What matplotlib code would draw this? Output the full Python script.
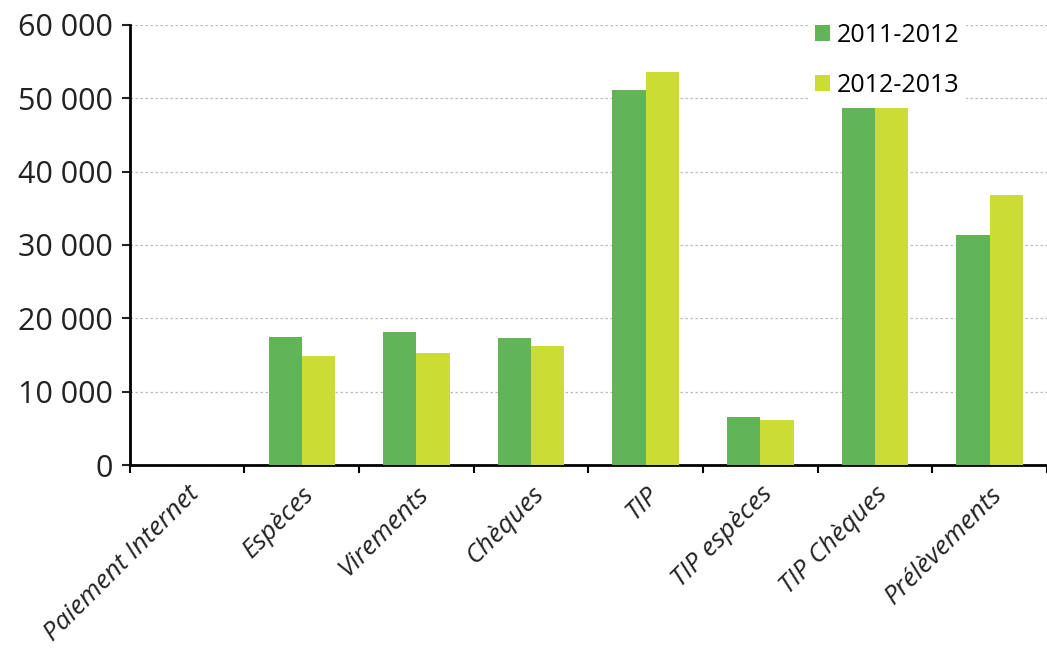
import matplotlib.pyplot as plt
import numpy as np
from matplotlib.ticker import FuncFormatter

# categories and values
categories = ["Paiement Internet", "Espèces", "Virements", "Chèques", "TIP",
              "TIP espèces", "TIP Chèques", "Prélèvements"]
v_2011 = [0, 17500, 18100, 17300, 51100, 6600, 48700, 31400]
v_2012 = [0, 14800, 15300, 16200, 53600, 6100, 48700, 36800]
series_names = ["2011-2012", "2012-2013"]

green = "#62b557"
yellow = "#cbdc34"

plt.rcParams['font.family'] = ['Open Sans', 'DejaVu Sans']

fig = plt.figure(figsize=(10.47, 6.49), dpi=100)
ax = fig.add_axes([0.124, 0.2835, 0.876, 0.678])

x = np.arange(len(categories))
w = 0.29
ax.bar(x - w / 2, v_2011, w, color=green, label=series_names[0], zorder=3)
ax.bar(x + w / 2, v_2012, w, color=yellow, label=series_names[1], zorder=3)

ax.set_xlim(-0.5, len(categories) - 0.5)
ax.set_ylim(0, 60000)
ax.set_yticks(np.arange(0, 60001, 10000))
ax.yaxis.set_major_formatter(FuncFormatter(lambda v, p: f"{int(v):,}".replace(",", " ")))
ax.tick_params(axis='y', labelsize=22, length=6, width=1.5, pad=6, colors="#222222")

# ticks at boundaries, labels at centres
ax.set_xticks(np.arange(-0.5, len(categories), 1.0))
ax.set_xticklabels([])
ax.tick_params(axis='x', which='major', length=6, width=1.5, direction='out')
ax.set_xticks(x, minor=True)
ax.set_xticklabels(categories, minor=True, rotation=45, ha='right',
                   rotation_mode='anchor', fontsize=19, style='italic', color="#222222")
ax.tick_params(axis='x', which='minor', length=0, pad=12)

ax.yaxis.grid(True, linestyle=(0, (2, 2)), color="#bbbbbb", linewidth=0.9, zorder=0)
ax.set_axisbelow(True)

for s in ["top", "right"]:
    ax.spines[s].set_visible(False)
ax.spines["left"].set_linewidth(2)
ax.spines["bottom"].set_linewidth(2)

leg = ax.legend(loc='upper right', bbox_to_anchor=(0.924, 1.045), frameon=True,
                fontsize=18, handlelength=0.6, handleheight=0.6, handletextpad=0.3,
                labelspacing=1.0, borderpad=0.2)
leg.get_frame().set_facecolor("white")
leg.get_frame().set_edgecolor("white")
leg.get_frame().set_alpha(1)

fig.savefig("out.png", dpi=100)
